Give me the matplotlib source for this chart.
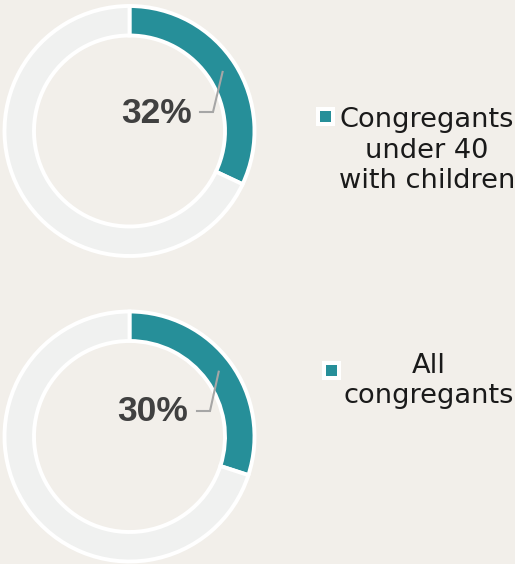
import matplotlib
matplotlib.use("Agg")
import matplotlib.pyplot as plt
from matplotlib.patches import Rectangle
import numpy as np

# Share of congregants, per group (percent)
groups = ["Congregants\nunder 40\nwith children", "All\ncongregants"]
shares = [32, 30]

BG = "#f2efea"
TEAL = "#268f99"
REST = "#f0f1f0"
LABEL = "#404040"
LEADER = "#a6a6a6"

W, H = 515, 564
DPI = 100
fig = plt.figure(figsize=(W / DPI, H / DPI), dpi=DPI, facecolor=BG)

R = 125.0          # ring outer radius in px
HALF = 130.0       # half size of each pie axes in px
RING = 0.236       # ring width as fraction of radius

# per-donut layout (pixel centre, label centre, leader elbow, legend anchor)
centres = [(129.5, 131.0), (129.5, 436.5)]
label_pos = [(0.212, 0.140), (0.184, 0.196)]
elbows = [(0.668, 0.152), (0.644, 0.204)]
leader_ends = [0.564, 0.540]
legend_marker = [(325.5, 116.5), (331.5, 370.5)]
legend_text = [(427.0, 188.0), (429.0, 403.0)]


def px_axes(cx, cy, half):
    return [(cx - half) / W, 1 - (cy + half) / H, 2 * half / W, 2 * half / H]


for i, (share, (cx, cy)) in enumerate(zip(shares, centres)):
    ax = fig.add_axes(px_axes(cx, cy, HALF))
    ax.set_facecolor("none")
    ax.pie([share, 100 - share], radius=1.0, startangle=90, counterclock=False,
           colors=[TEAL, REST],
           wedgeprops=dict(width=RING, edgecolor="white", linewidth=2.8))
    lim = HALF / R
    ax.set_xlim(-lim, lim)
    ax.set_ylim(-lim, lim)
    ax.set_aspect("equal")
    ax.axis("off")

    # leader line from middle of the teal arc to the label
    theta = np.deg2rad(90 - 360 * share / 100 / 2)
    rmid = 1 - RING / 2
    sx, sy = rmid * np.cos(theta), rmid * np.sin(theta)
    ex, ey = elbows[i]
    ax.plot([sx, ex, leader_ends[i]], [sy, ey, ey], color=LEADER, lw=1.5,
            solid_joinstyle="miter", zorder=3)

    lx, ly = label_pos[i]
    ax.text(lx, ly, f"{share}%", ha="center", va="center",
            fontsize=25.5, fontweight="bold", family="Liberation Sans",
            color=LABEL, zorder=4)

    # legend entry
    mx, my = legend_marker[i]
    outer, inner = 19.0, 10.5
    fig.add_artist(Rectangle(((mx - outer / 2) / W, 1 - (my + outer / 2) / H),
                             outer / W, outer / H, transform=fig.transFigure,
                             facecolor="white", edgecolor="none"))
    fig.add_artist(Rectangle(((mx - inner / 2) / W, 1 - (my + inner / 2) / H),
                             inner / W, inner / H, transform=fig.transFigure,
                             facecolor=TEAL, edgecolor="none"))
    tx, ty = legend_text[i]
    fig.text(tx / W, 1 - ty / H, groups[i], ha="center", va="baseline",
             multialignment="center", fontsize=19.6, family="DejaVu Sans",
             color="#1a1a1a", linespacing=1.22)

fig.savefig("out.png", dpi=DPI, facecolor=BG)
